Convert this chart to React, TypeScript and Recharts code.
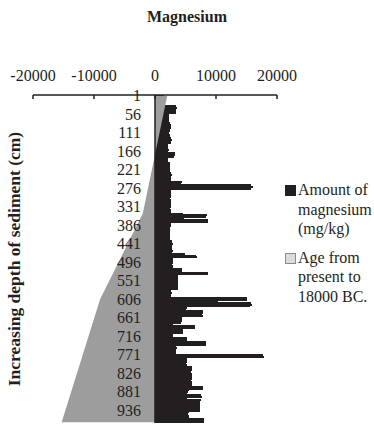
import { ComposedChart, Bar, Area, XAxis, YAxis, ReferenceLine } from 'recharts';

const FONT = '"Liberation Serif", "Times New Roman", serif';
const INK = '#231f20';
const GREY = '#9d9d9d';

// sediment depth (cm), one category every 5 cm
const depths = [
  1, 6, 11, 16, 21, 26, 31, 36, 41, 46, 51, 56, 61, 66, 71, 76, 81, 86, 91, 96,
  101, 106, 111, 116, 121, 126, 131, 136, 141, 146, 151, 156, 161, 166, 171, 176, 181, 186, 191, 196,
  201, 206, 211, 216, 221, 226, 231, 236, 241, 246, 251, 256, 261, 266, 271, 276, 281, 286, 291, 296,
  301, 306, 311, 316, 321, 326, 331, 336, 341, 346, 351, 356, 361, 366, 371, 376, 381, 386, 391, 396,
  401, 406, 411, 416, 421, 426, 431, 436, 441, 446, 451, 456, 461, 466, 471, 476, 481, 486, 491, 496,
  501, 506, 511, 516, 521, 526, 531, 536, 541, 546, 551, 556, 561, 566, 571, 576, 581, 586, 591, 596,
  601, 606, 611, 616, 621, 626, 631, 636, 641, 646, 651, 656, 661, 666, 671, 676, 681, 686, 691, 696,
  701, 706, 711, 716, 721, 726, 731, 736, 741, 746, 751, 756, 761, 766, 771, 776, 781, 786, 791, 796,
  801, 806, 811, 816, 821, 826, 831, 836, 841, 846, 851, 856, 861, 866, 871, 876, 881, 886, 891, 896,
  901, 906, 911, 916, 921, 926, 931, 936, 941, 946, 951, 956, 961, 966, 971,
];

// mg/kg
const magnesium = [
  1500, 1500, 1500, 1500, 1500, 1500, 3500, 3550, 3500, 3450, 3400, 2300, 2250, 2300, 2350, 2300, 2400, 2600, 2650, 2550,
  2500, 2400, 2350, 2400, 2450, 2700, 2750, 2700, 2650, 2200, 2150, 2200, 2250, 2200, 3200, 3250, 3150, 2100, 2150, 2200,
  2450, 2400, 2500, 2450, 2400, 2500, 2700, 2750, 2700, 2650, 2700, 4400, 4300, 15800, 16100, 15700, 2600, 2550, 2600, 2650,
  2550, 2500, 2600, 2650, 2600, 2550, 2600, 2500, 2550, 2600, 4600, 8500, 8400, 4800, 8700, 8750, 2600, 2550, 2500, 2450,
  2500, 2450, 2400, 2450, 2500, 2450, 2850, 2800, 2900, 2850, 2800, 2850, 2900, 2850, 4900, 6800, 6850, 2900, 2950, 2900,
  2850, 2900, 2950, 4400, 4350, 8750, 8700, 3800, 3850, 3800, 3750, 3800, 3850, 3800, 3750, 3800, 2700, 2750, 2700, 2650,
  15000, 15100, 10400, 15800, 15900, 15600, 5200, 5150, 7800, 7850, 7750, 7800, 4400, 4350, 4400, 4300, 3000, 6600, 6550, 4600,
  4650, 4600, 2900, 2950, 5200, 5250, 8300, 8350, 8300, 3500, 3550, 3500, 3450, 3500, 17700, 17800, 5200, 5250, 5200, 5150,
  5200, 6000, 6050, 6000, 5950, 6000, 6050, 6000, 6000, 5950, 6000, 6050, 6000, 7900, 7950, 5500, 5450, 5200, 7600, 7650,
  5200, 7500, 7450, 7400, 7350, 7400, 7450, 7400, 5500, 5450, 5500, 5550, 8100, 8050, 8100,
];

// age (years, negative = BC) at the dated depths
const ageDepths = [1, 351, 606, 971];
const ageValues = [2000, -2000, -9000, -15300];

const xTicks = [-20000, -10000, 0, 10000, 20000];

const legendItems = [
  { lines: ['Amount of', 'magnesium', '(mg/kg)'], fill: INK, stroke: INK },
  { lines: ['Age from', 'present to', '18000 BC.'], fill: '#dcdcdc', stroke: '#8a8a8a' },
];

const data = depths.map((depth, i) => {
  const k = ageDepths.indexOf(depth);
  return { depth, magnesium: magnesium[i], age: k >= 0 ? ageValues[k] : null };
});

function XTick({ x, payload }: any) {
  return (
    <g>
      <line x1={x} x2={x} y1={95} y2={99} stroke={INK} strokeWidth={1.5} />
      <text x={x} y={81} textAnchor="middle" fontFamily={FONT} fontSize={16} fill={INK}>
        {payload.value}
      </text>
    </g>
  );
}

function YTick({ y, payload }: any) {
  return (
    <text x={141} y={y + 5.5} textAnchor="end" fontFamily={FONT} fontSize={16} fill={INK}>
      {payload.value}
    </text>
  );
}

function LegendBox() {
  return (
    <div
      style={{
        position: 'absolute',
        left: 283,
        top: 180,
        width: 91,
        fontFamily: FONT,
        fontSize: 16,
        color: INK,
      }}
    >
      {legendItems.map((item, i) => (
        <div key={i} style={{ position: 'relative', paddingLeft: 15, marginTop: i ? 9 : 0, lineHeight: '19.5px' }}>
          <span
            style={{
              position: 'absolute',
              left: 2,
              top: 5,
              width: 9,
              height: 9,
              background: item.fill,
              border: `1px solid ${item.stroke}`,
            }}
          />
          {item.lines.map((l) => (
            <div key={l}>{l}</div>
          ))}
        </div>
      ))}
    </div>
  );
}

export default function App() {
  return (
    <div style={{ position: 'relative', width: 374, height: 426 }}>
      <style>{'body{margin:0}'}</style>
      <div
        style={{
          position: 'absolute',
          top: 8,
          left: 0,
          width: 374,
          textAlign: 'center',
          fontFamily: FONT,
          fontWeight: 'bold',
          fontSize: 16,
          color: INK,
        }}
      >
        Magnesium
      </div>
      <div
        style={{
          position: 'absolute',
          left: 14,
          top: 259,
          transform: 'translate(-50%, -50%) rotate(-90deg)',
          whiteSpace: 'nowrap',
          fontFamily: FONT,
          fontWeight: 'bold',
          fontSize: 17.5,
          color: INK,
        }}
      >
        Increasing depth of sediment (cm)
      </div>
      <ComposedChart
        width={374}
        height={426}
        data={data}
        layout="vertical"
        barCategoryGap={0}
        margin={{ top: 65, right: 97, bottom: 3, left: 32 }}
      >
        <XAxis
          type="number"
          orientation="top"
          domain={[-20000, 20000]}
          ticks={xTicks}
          height={30}
          tickSize={0}
          tickLine={false}
          axisLine={{ stroke: INK, strokeWidth: 1.5 }}
          tick={<XTick />}
        />
        <YAxis
          type="category"
          dataKey="depth"
          width={1}
          interval={10}
          axisLine={false}
          tickLine={false}
          tick={<YTick />}
        />
        <Bar dataKey="magnesium" fill={INK} shapeRendering="crispEdges" isAnimationActive={false} />
        <Area
          dataKey="age"
          type="linear"
          connectNulls
          fill={GREY}
          fillOpacity={1}
          stroke="none"
          isAnimationActive={false}
          zIndex={350}
        />
        <ReferenceLine x={0} stroke={INK} strokeWidth={1.5} zIndex={600} />
      </ComposedChart>
      <LegendBox />
    </div>
  );
}
